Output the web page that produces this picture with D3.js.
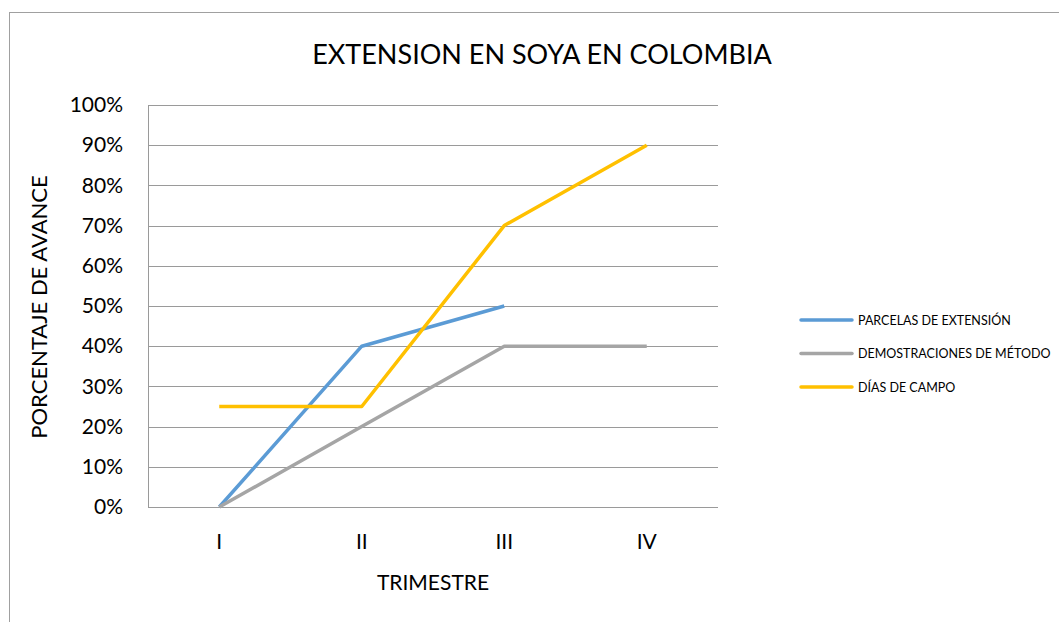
<!DOCTYPE html>
<html lang="es">
<head>
<meta charset="UTF-8">
<title>Extension en soya en Colombia</title>
<script src="https://cdn.jsdelivr.net/npm/d3@7"></script>
<style>
  body { margin: 0; background: #fff; }
  text { font-family: Lato, "Noto Sans", sans-serif; fill: #000; }
</style>
</head>
<body>
<svg id="main" width="1059" height="622"></svg>
<script>
  var trimestres = ["I", "II", "III", "IV"];
  var parcelas = [0, 0.40, 0.50];
  var demostraciones = [0, 0.20, 0.40, 0.40];
  var diasCampo = [0.25, 0.25, 0.70, 0.90];
  var yTicks = [0, 0.1, 0.2, 0.3, 0.4, 0.5, 0.6, 0.7, 0.8, 0.9, 1.0];

  var series = [
    { name: "PARCELAS DE EXTENSIÓN", values: parcelas, color: "#5B9BD5" },
    { name: "DEMOSTRACIONES DE MÉTODO", values: demostraciones, color: "#A5A5A5" },
    { name: "DÍAS DE CAMPO", values: diasCampo, color: "#FFC000" }
  ];

  var svg = d3.select("svg#main");
  var plotLeft = 148, plotRight = 718, plotTop = 105, plotBottom = 507;
  var font = "Lato, 'Noto Sans', sans-serif";

  // chart frame
  svg.append("rect")
    .attr("x", 9.5).attr("y", 12.5)
    .attr("width", 1070).attr("height", 640)
    .attr("fill", "none").attr("stroke", "#A0A0A0");

  var x = d3.scaleBand().domain(trimestres).range([plotLeft, plotRight]);
  var y = d3.scaleLinear().domain([0, 1]).range([plotBottom, plotTop]);

  // gridlines
  svg.append("g").selectAll("line")
    .data(yTicks)
    .enter().append("line")
    .attr("x1", plotLeft).attr("x2", plotRight)
    .attr("y1", d => Math.round(y(d)) + 0.5)
    .attr("y2", d => Math.round(y(d)) + 0.5)
    .attr("stroke", "#9A9A9A").attr("stroke-width", 1);

  // vertical axis line
  svg.append("line")
    .attr("x1", plotLeft + 0.5).attr("x2", plotLeft + 0.5)
    .attr("y1", plotTop).attr("y2", plotBottom)
    .attr("stroke", "#9A9A9A");

  // y axis labels
  var yAxis = d3.axisLeft(y).tickValues(yTicks).tickFormat(d3.format(".0%")).tickSize(0).tickPadding(25);
  var ga = svg.append("g").attr("transform", "translate(" + plotLeft + ",0)").call(yAxis);
  ga.select(".domain").remove();
  ga.selectAll("text").style("font-size", "21px").style("font-family", font);

  // x axis labels
  var xAxis = d3.axisBottom(x).tickSize(0).tickPadding(27);
  var gx = svg.append("g").attr("transform", "translate(0," + plotBottom + ")").call(xAxis);
  gx.select(".domain").remove();
  gx.selectAll("text").style("font-size", "21px").style("font-family", font);

  // lines
  var line = d3.line()
    .x((d, i) => x(trimestres[i]) + x.bandwidth() / 2)
    .y(d => y(d));

  series.forEach(function(s) {
    svg.append("path")
      .datum(s.values)
      .attr("d", line)
      .attr("fill", "none")
      .attr("stroke", s.color)
      .attr("stroke-width", 3.5)
      .attr("stroke-linejoin", "round");
  });

  // titles
  svg.append("text")
    .attr("x", 542).attr("y", 64)
    .attr("text-anchor", "middle")
    .style("font-size", "27px")
    .text("EXTENSION EN SOYA EN COLOMBIA");

  svg.append("text")
    .attr("x", 433).attr("y", 590)
    .attr("text-anchor", "middle")
    .style("font-size", "21px")
    .text("TRIMESTRE");

  svg.append("text")
    .attr("transform", "translate(47,307) rotate(-90)")
    .attr("text-anchor", "middle")
    .style("font-size", "22px")
    .text("PORCENTAJE DE AVANCE");

  // legend
  var lg = svg.append("g").selectAll("g")
    .data(series)
    .enter().append("g")
    .attr("transform", (d, i) => "translate(800," + (320 + i * 33.5) + ")");
  lg.append("line")
    .attr("x1", 1).attr("x2", 52)
    .attr("stroke", d => d.color).attr("stroke-width", 3.5)
    .attr("stroke-linecap", "round");
  lg.append("text")
    .attr("x", 58).attr("y", 4.5)
    .style("font-size", "12.5px")
    .text(d => d.name);
</script>
</body>
</html>
